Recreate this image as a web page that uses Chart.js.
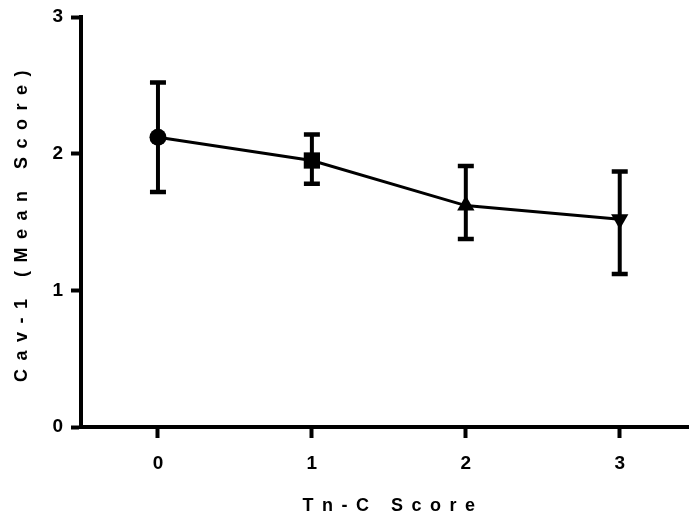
<!DOCTYPE html>
<html>
<head>
<meta charset="utf-8">
<script src="https://cdn.jsdelivr.net/npm/chart.js@4"></script>
<style>
html,body{margin:0;padding:0;background:#fff;}
#wrap{width:689px;height:519px;position:relative;}
</style>
</head>
<body>
<div id="wrap"><canvas id="c" width="689" height="519"></canvas></div>
<script>
const categories = [0, 1, 2, 3];
const categoryLabels = ['0', '1', '2', '3'];
const meanScore = [2.12, 1.95, 1.62, 1.52];
const errLow = [1.72, 1.78, 1.375, 1.12];
const errHigh = [2.52, 2.14, 1.91, 1.87];
const yTicks = [0, 1, 2, 3];
const pointShapes = ['circle', 'rect', 'triangle', 'triangle'];
const pointRotations = [0, 0, 0, 180];

const errorBars = {
  id: 'errorBars',
  beforeDatasetsDraw(chart) {
    const ctx = chart.ctx;
    const xs = chart.scales.x, ys = chart.scales.y;
    ctx.save();
    ctx.strokeStyle = '#000';
    ctx.lineCap = 'butt';
    categories.forEach((c, i) => {
      const px = xs.getPixelForValue(c);
      const top = ys.getPixelForValue(errHigh[i]);
      const bot = ys.getPixelForValue(errLow[i]);
      ctx.lineWidth = 4;
      ctx.beginPath();
      ctx.moveTo(px, top); ctx.lineTo(px, bot);
      ctx.stroke();
      ctx.lineWidth = 4.5;
      ctx.beginPath();
      ctx.moveTo(px - 8, top); ctx.lineTo(px + 8, top);
      ctx.moveTo(px - 8, bot); ctx.lineTo(px + 8, bot);
      ctx.stroke();
    });
    ctx.restore();
  }
};

const tickFont = {family: '"Liberation Sans", Arial, sans-serif', size: 19, weight: 'bold'};

// letter-spaced axis titles
const spacedTitles = {
  id: 'spacedTitles',
  afterDraw(chart) {
    const ctx = chart.ctx;
    const ca = chart.chartArea;
    ctx.save();
    ctx.letterSpacing = '8.5px';
    ctx.fillStyle = '#000';
    ctx.font = 'bold 18px "Liberation Sans", Arial, sans-serif';
    ctx.textAlign = 'center';
    ctx.textBaseline = 'middle';
    ctx.fillText(chart.options.scales.x.title.text, (ca.left + ca.right) / 2 + 8, 506);
    ctx.translate(22, (ca.top + ca.bottom) / 2);
    ctx.rotate(-Math.PI / 2);
    ctx.fillText(chart.options.scales.y.title.text, 0, 0);
    ctx.restore();
  }
};

new Chart(document.getElementById('c'), {
  type: 'line',
  data: {
    datasets: [{
      data: categories.map((c, i) => ({x: c, y: meanScore[i]})),
      borderColor: '#000',
      backgroundColor: '#000',
      borderWidth: 3,
      pointStyle: pointShapes,
      rotation: pointRotations,
      pointRadius: [8.5, 11.5, 10, 10],
      pointBorderWidth: 0,
      pointBackgroundColor: '#000',
      tension: 0
    }]
  },
  options: {
    responsive: false,
    animation: false,
    layout: {autoPadding: false, padding: {top: 17, right: 0, left: 0, bottom: 0}},
    plugins: {legend: {display: false}, tooltip: {enabled: false}},
    scales: {
      x: {
        type: 'linear',
        min: -0.5, max: 3.45,
        afterBuildTicks: s => { s.ticks = categories.map(v => ({value: v})); },
        afterFit: s => { s.height = 92; s.paddingLeft = 0; s.paddingRight = 0; },
        ticks: {
          color: '#000', font: tickFont, padding: 14,
          callback: (v) => categoryLabels[categories.indexOf(v)]
        },
        grid: {drawOnChartArea: false, drawTicks: true, tickLength: 11, tickWidth: 4, color: '#000'},
        border: {display: true, width: 4, color: '#000'},
        title: {display: false, text: 'Tn-C Score'}
      },
      y: {
        min: 0, max: 3,
        afterBuildTicks: s => { s.ticks = yTicks.map(v => ({value: v})); },
        afterFit: s => { s.width = 81; s.paddingTop = 0; s.paddingBottom = 0; },
        ticks: {color: '#000', font: tickFont, padding: 8},
        grid: {drawOnChartArea: false, drawTicks: true, tickLength: 10, tickWidth: 4, color: '#000'},
        border: {display: true, width: 4, color: '#000'},
        title: {display: false, text: 'Cav-1 (Mean Score)'}
      }
    }
  },
  plugins: [errorBars, spacedTitles]
});
</script>
</body>
</html>
